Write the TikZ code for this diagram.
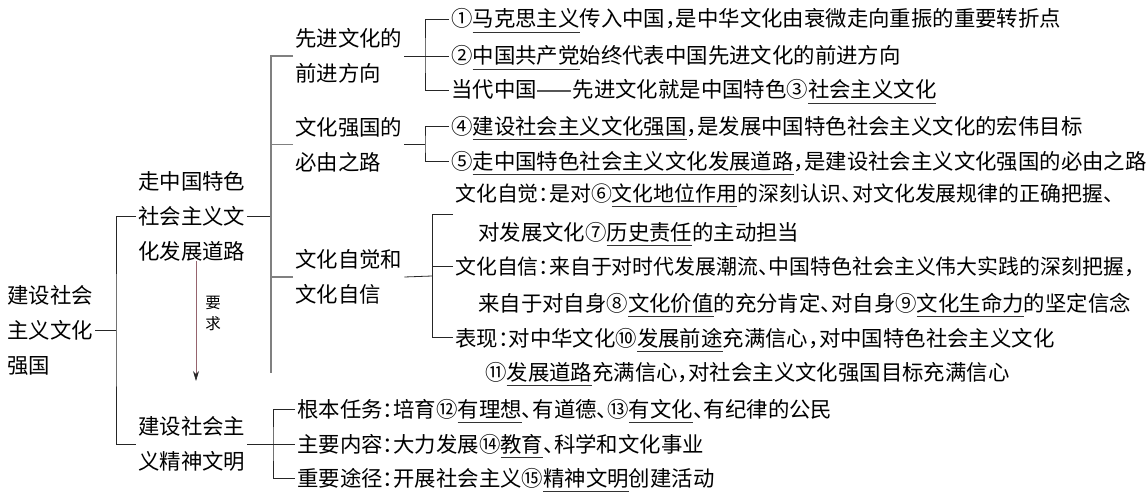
\documentclass[tikz,border=0pt]{standalone}
\usepackage{fontspec}
\setmainfont{Noto Sans CJK SC}[RawFeature=+halt]
\usetikzlibrary{arrows.meta}
\newsavebox\ulbox
\newcommand\myul[1]{\sbox\ulbox{#1}\rlap{\color{black!80}\rule[-6pt]{\wd\ulbox}{0.7pt}}\usebox\ulbox}
\newcommand\cn[1]{\makebox[1em][c]{#1}}
\begin{document}
\begin{tikzpicture}[x=1pt,y=-1pt,
  blk/.style={anchor=west, inner xsep=2pt, inner ysep=0pt, align=left, font=\fontsize{21.4}{35}\selectfont},
  txt/.style={anchor=base west, inner xsep=2pt, inner ysep=0pt, font=\fontsize{21.4}{26}\selectfont},
  txtn/.style={txt, font=\fontsize{20.9}{26}\selectfont},
  ln/.style={draw=black!85, line width=0.8pt},
  gln/.style={draw=black!50, line width=1.3pt},
  arr/.style={draw={rgb,255:red,150;green,100;blue,110}, line width=0.7pt, -{Stealth[length=10pt,width=6pt,color=black!85]}},
  small/.style={inner sep=0pt, align=center, font=\fontsize{15.5}{21}\selectfont}]
\path[use as bounding box] (0,0) rectangle (1147,500);

% level 0 and 1
\node[blk] (root) at (5,330) {建设社会\\主义文化\\强国};
\node[blk] (c1) at (136,216) {走中国特色\\社会主义文\\化发展道路};
\node[blk] (c2) at (136,444) {建设社会主\\义精神文明};

% level 2
\node[blk] (d1) at (293,56) {先进文化的\\前进方向};
\node[blk] (d2) at (293,144.5) {文化强国的\\必由之路};
\node[blk] (d3) at (293,277) {文化自觉和\\文化自信};

% level 3 texts
\node[txt] (e1) at (449,27) {\cn{①}\myul{马克思主义}传入中国，是中华文化由衰微走向重振的重要转折点};
\node[txt] (e2) at (449,64) {\cn{②}\myul{中国共产党}始终代表中国先进文化的前进方向};
\node[txt] (e3) at (449,98) {当代中国——先进文化就是中国特色\cn{③}\myul{社会主义文化}};
\node[txt] (e4) at (449,134) {\cn{④}\myul{建设社会主义文化强国}，是发展中国特色社会主义文化的宏伟目标};
\node[txt] (e5) at (449,169) {\cn{⑤}\myul{走中国特色社会主义文化发展道路}，是建设社会主义文化强国的必由之路};
\node[txtn] (f1a) at (453,201) {文化自觉：是对\cn{⑥}\myul{文化地位作用}的深刻认识、对文化发展规律的正确把握、};
\node[txt] (f1b) at (476,240) {对发展文化\cn{⑦}\myul{历史责任}的主动担当};
\node[txtn] (f2a) at (453,274) {文化自信：来自于对时代发展潮流、中国特色社会主义伟大实践的深刻把握，};
\node[txt] (f2b) at (476,311) {来自于对自身\cn{⑧}\myul{文化价值}的充分肯定、对自身\cn{⑨}\myul{文化生命力}的坚定信念};
\node[txt] (f3a) at (453,346) {表现：对中华文化\cn{⑩}\myul{发展前途}充满信心，对中国特色社会主义文化};
\node[txt] (f3b) at (483,380) {\cn{⑪}\myul{发展道路}充满信心，对社会主义文化强国目标充满信心};
\node[txt] (g1) at (295,417) {根本任务：培育\cn{⑫}\myul{有理想}、有道德、\cn{⑬}\myul{有文化}、有纪律的公民};
\node[txt] (g2) at (295,452) {主要内容：大力发展\cn{⑭}\myul{教育}、科学和文化事业};
\node[txt] (g3) at (295,486) {重要途径：开展社会主义\cn{⑮}\myul{精神文明}创建活动};

% bracket coordinates
\coordinate (k0) at (116,330);
\coordinate (b2) at (271,216);
\coordinate (b2e) at (271,373);
\coordinate (k1) at (425,56);
\coordinate (k2) at (425,144.5);
\coordinate (k3) at (432,276);
\coordinate (t3) at (432,214);
\coordinate (t3e) at (453,214);
\coordinate (k4) at (273,444);
\coordinate (a1) at (196,381);

% root bracket
\draw[ln] (root.east) -- (k0);
\draw[ln] (c1.west) -| (k0) |- (c2.west);

% c1 bracket
\draw[ln] (c1.east) -- (b2);
\draw[gln] (d1.west) -| (b2e);
\draw[gln] (d2.west) -- (d2.west -| b2e);
\draw[gln] (d3.west) -- (d3.west -| b2e);

% d1 bracket
\draw[ln] (d1.east) -- (k1);
\draw[ln] ([yshift=8pt]e1.base west) -| (k1) |- ([yshift=8pt]e3.base west);
\draw[ln] (k1) -- ([yshift=8pt]e2.base west);

% d2 bracket
\draw[ln] (d2.east) -- (k2);
\draw[ln] ([yshift=8pt]e4.base west) -| (k2) |- ([yshift=8pt]e5.base west);

% d3 bracket
\draw[ln] (d3.east) -- (k3);
\draw[ln] (t3e) -- (t3) |- ([yshift=9pt]f3a.base west);
\draw[ln] ([yshift=8pt]f2a.base west) -- ([yshift=8pt]f2a.base west -| k3);

% c2 bracket
\draw[ln] (c2.east) -- (k4);
\draw[ln] ([yshift=8pt]g1.base west) -| (k4) |- ([yshift=8pt]g3.base west);
\draw[ln] (k4) -- ([yshift=8pt]g2.base west);

% requirement arrow
\draw[arr] (c1.south -| a1) -- (a1);
\node[small] (req) at (213,313) {要\\求};
\end{tikzpicture}
\end{document}
